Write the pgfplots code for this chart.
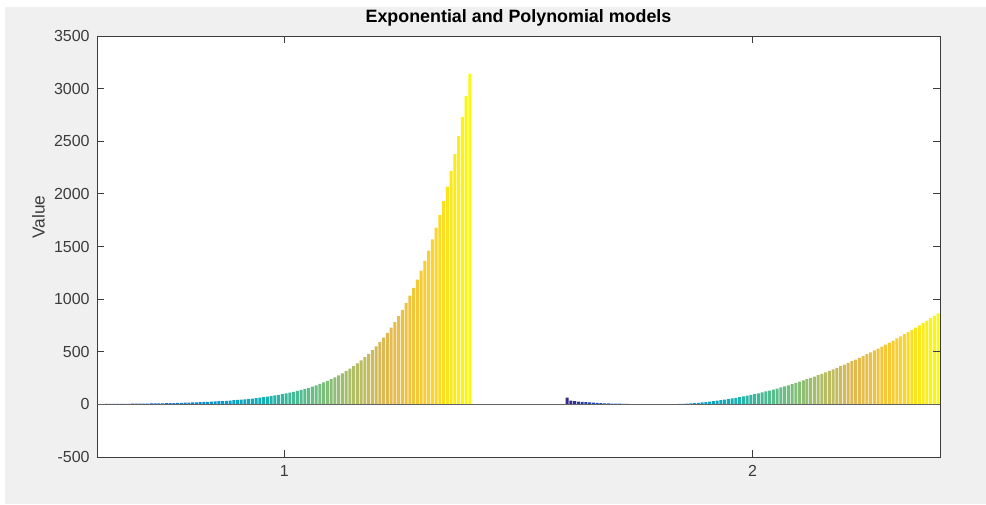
\documentclass[border=0pt]{standalone}
\usepackage{pgfplots}
\pgfplotsset{compat=1.18}
\usepackage{fontspec}
\setmainfont{Liberation Sans}
\definecolor{figbg}{RGB}{240,240,240}
\definecolor{axgray}{RGB}{60,60,60}
\pgfplotsset{colormap={parula}{rgb255=(53,42,135) rgb255=(15,92,221) rgb255=(18,125,216) rgb255=(7,156,207) rgb255=(21,177,180) rgb255=(89,189,140) rgb255=(165,190,107) rgb255=(225,185,82) rgb255=(252,206,46) rgb255=(249,251,14)}}
\begin{document}
\begin{tikzpicture}
\useasboundingbox (0,0) rectangle (739.5pt,378pt);
\fill[figbg] (3.75pt,0) rectangle (739.5pt,372.75pt);
\begin{axis}[
  at={(72.75pt,35.25pt)}, anchor=south west,
  scale only axis, width=632.25pt, height=315.75pt,
  axis background/.style={fill=white},
  ybar=0.562pt, bar width=2.248pt,
  xmin=0.6, xmax=2.4, ymin=-500, ymax=3500,
  xtick={1,2}, ytick={-500,0,...,3500},
  scaled y ticks=false,
  /pgf/number format/.cd, 1000 sep={}, assume math mode=true, /pgfplots/.cd,
  tick align=inside, major tick length=5pt,
  axis line style={axgray, line width=0.6pt},
  tick style={axgray, line width=0.6pt},
  ticklabel style={font=\fontsize{12}{14}\selectfont, text=axgray},
  yticklabel style={xshift=-2pt},
  xticklabel style={yshift=-3pt},
  extra y ticks={0}, extra y tick labels={},
  extra y tick style={grid=major, major grid style={axgray!80, line width=0.6pt}, tick style={draw=none}},
  axis on top,
  title={\textbf{Exponential and Polynomial models}},
  title style={font=\fontsize{13.4}{15}\selectfont, text=black, yshift=-2pt},
  ylabel={Value},
  every axis y label/.style={at={(axis description cs:-0.0696,0.57)}, rotate=90, anchor=center, font=\fontsize{13}{15}\selectfont, text=axgray},
  cycle list={[samples of colormap=100 of parula]},
  every axis plot post/.append style={fill, draw=none},
]
\addplot coordinates {(1,3.2) (2,65)};
\addplot coordinates {(1,3.5) (2,36)};
\addplot coordinates {(1,3.7) (2,31)};
\addplot coordinates {(1,4.0) (2,27)};
\addplot coordinates {(1,4.3) (2,24)};
\addplot coordinates {(1,4.6) (2,21)};
\addplot coordinates {(1,4.9) (2,18)};
\addplot coordinates {(1,5.2) (2,16)};
\addplot coordinates {(1,5.6) (2,14)};
\addplot coordinates {(1,6.0) (2,12)};
\addplot coordinates {(1,6.4) (2,10)};
\addplot coordinates {(1,6.9) (2,9)};
\addplot coordinates {(1,7.4) (2,8)};
\addplot coordinates {(1,7.9) (2,7)};
\addplot coordinates {(1,8.5) (2,6)};
\addplot coordinates {(1,9.1) (2,5)};
\addplot coordinates {(1,9.8) (2,4)};
\addplot coordinates {(1,10.5) (2,2.5)};
\addplot coordinates {(1,11.3) (2,1)};
\addplot coordinates {(1,12.1) (2,-4)};
\addplot coordinates {(1,13.0) (2,-4)};
\addplot coordinates {(1,13.9) (2,-4)};
\addplot coordinates {(1,14.9) (2,-4)};
\addplot coordinates {(1,16.0) (2,-4)};
\addplot coordinates {(1,17.2) (2,-4)};
\addplot coordinates {(1,18.4) (2,-4)};
\addplot coordinates {(1,19.7) (2,-3)};
\addplot coordinates {(1,21.1) (2,0.5)};
\addplot coordinates {(1,22.6) (2,1.2)};
\addplot coordinates {(1,24.2) (2,2.3)};
\addplot coordinates {(1,25.9) (2,3.7)};
\addplot coordinates {(1,27.8) (2,5.3)};
\addplot coordinates {(1,29.8) (2,7.3)};
\addplot coordinates {(1,31.9) (2,9.7)};
\addplot coordinates {(1,34.2) (2,12.3)};
\addplot coordinates {(1,36.7) (2,15.3)};
\addplot coordinates {(1,39.3) (2,18.5)};
\addplot coordinates {(1,42.1) (2,22.1)};
\addplot coordinates {(1,45.1) (2,26.0)};
\addplot coordinates {(1,48.4) (2,30.2)};
\addplot coordinates {(1,51.9) (2,34.8)};
\addplot coordinates {(1,55.6) (2,39.6)};
\addplot coordinates {(1,59.6) (2,44.8)};
\addplot coordinates {(1,63.9) (2,50.3)};
\addplot coordinates {(1,68.5) (2,56.1)};
\addplot coordinates {(1,73.4) (2,62.3)};
\addplot coordinates {(1,78.7) (2,68.7)};
\addplot coordinates {(1,84.4) (2,75.5)};
\addplot coordinates {(1,90.5) (2,82.6)};
\addplot coordinates {(1,97.0) (2,90.0)};
\addplot coordinates {(1,104.0) (2,97.7)};
\addplot coordinates {(1,111.5) (2,105.7)};
\addplot coordinates {(1,119.5) (2,114.1)};
\addplot coordinates {(1,128.1) (2,122.7)};
\addplot coordinates {(1,137.3) (2,131.7)};
\addplot coordinates {(1,147.2) (2,141.0)};
\addplot coordinates {(1,157.8) (2,150.6)};
\addplot coordinates {(1,169.2) (2,160.6)};
\addplot coordinates {(1,181.4) (2,170.8)};
\addplot coordinates {(1,194.5) (2,181.4)};
\addplot coordinates {(1,208.5) (2,192.3)};
\addplot coordinates {(1,223.5) (2,203.5)};
\addplot coordinates {(1,239.6) (2,215.1)};
\addplot coordinates {(1,256.9) (2,226.9)};
\addplot coordinates {(1,275.4) (2,239.1)};
\addplot coordinates {(1,295.2) (2,251.5)};
\addplot coordinates {(1,316.5) (2,264.3)};
\addplot coordinates {(1,339.3) (2,277.5)};
\addplot coordinates {(1,363.7) (2,290.9)};
\addplot coordinates {(1,389.9) (2,304.7)};
\addplot coordinates {(1,418.0) (2,318.7)};
\addplot coordinates {(1,448.1) (2,333.1)};
\addplot coordinates {(1,480.4) (2,347.8)};
\addplot coordinates {(1,515.0) (2,362.8)};
\addplot coordinates {(1,552.1) (2,378.2)};
\addplot coordinates {(1,591.9) (2,393.8)};
\addplot coordinates {(1,634.5) (2,409.8)};
\addplot coordinates {(1,680.2) (2,426.1)};
\addplot coordinates {(1,729.2) (2,442.7)};
\addplot coordinates {(1,781.7) (2,459.6)};
\addplot coordinates {(1,838.0) (2,476.9)};
\addplot coordinates {(1,898.3) (2,494.5)};
\addplot coordinates {(1,963.0) (2,512.3)};
\addplot coordinates {(1,1032.3) (2,530.5)};
\addplot coordinates {(1,1106.6) (2,549.0)};
\addplot coordinates {(1,1186.3) (2,567.9)};
\addplot coordinates {(1,1271.7) (2,587.0)};
\addplot coordinates {(1,1363.3) (2,606.5)};
\addplot coordinates {(1,1461.5) (2,626.3)};
\addplot coordinates {(1,1566.7) (2,646.4)};
\addplot coordinates {(1,1679.5) (2,666.8)};
\addplot coordinates {(1,1800.4) (2,687.6)};
\addplot coordinates {(1,1930.0) (2,708.6)};
\addplot coordinates {(1,2069.0) (2,730.0)};
\addplot coordinates {(1,2218.0) (2,751.7)};
\addplot coordinates {(1,2377.7) (2,773.7)};
\addplot coordinates {(1,2548.9) (2,796.0)};
\addplot coordinates {(1,2732.4) (2,818.7)};
\addplot coordinates {(1,2929.1) (2,841.6)};
\addplot coordinates {(1,3140.0) (2,864.9)};
\end{axis}
\end{tikzpicture}
\end{document}
